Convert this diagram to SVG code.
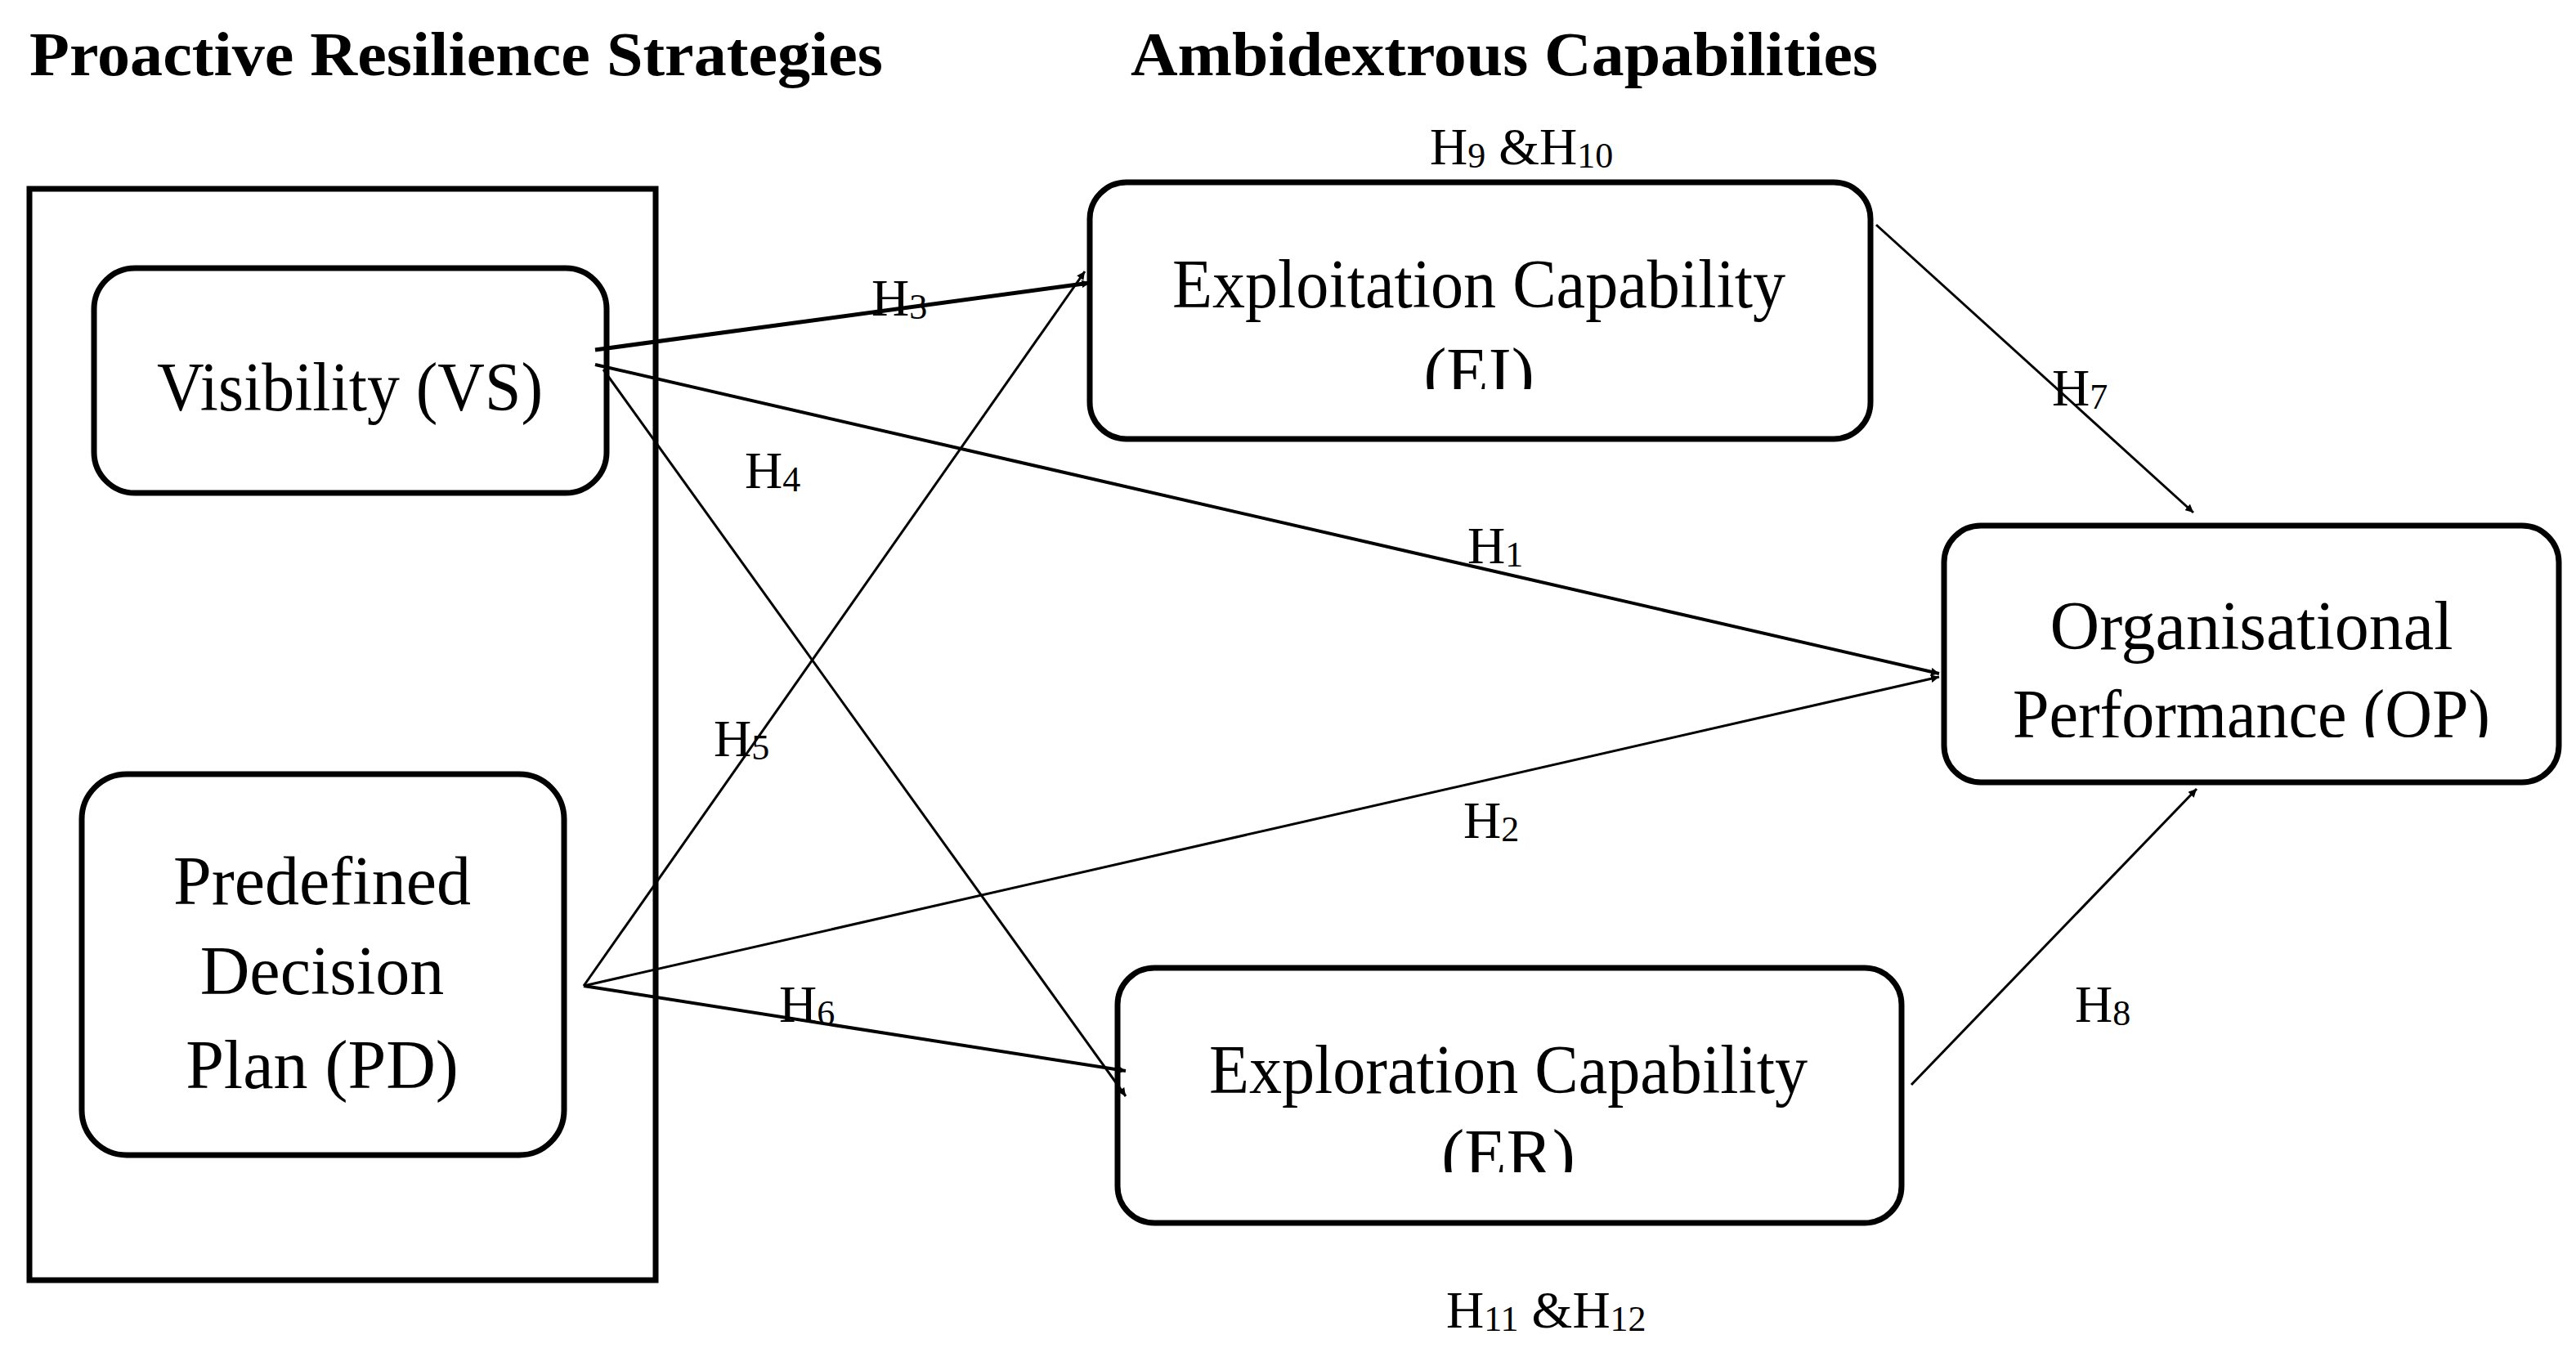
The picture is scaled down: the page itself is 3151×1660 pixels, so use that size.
<svg xmlns="http://www.w3.org/2000/svg" width="3151" height="1660" viewBox="0 0 3151 1660">
<style>
text{font-family:"Liberation Serif","Times New Roman",serif;fill:#000}
.t{font-weight:bold;font-size:76px}
.n{font-size:84px;text-anchor:middle}
.h{font-size:64px}
.s{font-size:44px}
.box{fill:#fff;stroke:#000;stroke-width:7}
.c{stroke:#000;fill:none}
</style>
<defs>
<marker id="a" viewBox="0 0 10 10" refX="10" refY="5" markerWidth="10" markerHeight="10" markerUnits="userSpaceOnUse" orient="auto">
<path d="M0,0 L10,5 L0,10 z" fill="#000"/>
</marker>
<clipPath id="cEI"><rect x="1333" y="223" width="955" height="253"/></clipPath>
<clipPath id="cOP"><rect x="2378" y="643" width="752" height="259"/></clipPath>
<clipPath id="cER"><rect x="1367" y="1184" width="959" height="250"/></clipPath>
</defs>
<rect width="3151" height="1660" fill="#fff"/>
<text class="t" x="36" y="92" textLength="1044" lengthAdjust="spacingAndGlyphs">Proactive Resilience Strategies</text>
<text class="t" x="1383" y="92" textLength="914" lengthAdjust="spacingAndGlyphs">Ambidextrous Capabilities</text>
<text class="h" x="1749" y="201">H<tspan class="s" dy="4">9</tspan><tspan dy="-4"> &amp;H</tspan><tspan class="s" dy="4">10</tspan></text>
<text class="h" x="1769" y="1624">H<tspan class="s" dy="4">11</tspan><tspan dy="-4"> &amp;H</tspan><tspan class="s" dy="4">12</tspan></text>
<g id="group">
<rect x="36" y="231" width="766" height="1335" fill="none" stroke="#000" stroke-width="7"/>
</g>
<g id="VS">
<rect class="box" x="115" y="328" width="627" height="275" rx="50"/>
<text class="n" x="428" y="502" textLength="472" lengthAdjust="spacingAndGlyphs">Visibility (VS)</text>
</g>
<g id="PD">
<rect class="box" x="100" y="947" width="590" height="466" rx="55"/>
<text class="n" x="394" y="1106">Predefined</text>
<text class="n" x="394" y="1216">Decision</text>
<text class="n" x="394" y="1331">Plan (PD)</text>
</g>
<g id="EI">
<rect class="box" x="1333" y="223" width="955" height="314" rx="45"/>
<text class="n" x="1809" y="376" textLength="750" lengthAdjust="spacingAndGlyphs">Exploitation Capability</text>
<text class="n" x="1809" y="484" clip-path="url(#cEI)">(EI)</text>
</g>
<g id="OP">
<rect class="box" x="2378" y="643" width="752" height="314" rx="45"/>
<text class="n" x="2754" y="794">Organisational</text>
<text class="n" x="2754" y="902" clip-path="url(#cOP)" textLength="584" lengthAdjust="spacingAndGlyphs">Performance (OP)</text>
</g>
<g id="ER">
<rect class="box" x="1367" y="1184" width="959" height="312" rx="45"/>
<text class="n" x="1845" y="1337" textLength="732" lengthAdjust="spacingAndGlyphs">Exploration Capability</text>
<text class="n" x="1845" y="1440" clip-path="url(#cER)">(ER)</text>
</g>
<g id="connectors">
<line class="c" stroke-width="5" x1="728" y1="428" x2="1333" y2="346" marker-end="url(#a)"/>
<line class="c" stroke-width="4" x1="728" y1="446" x2="2372" y2="824" marker-end="url(#a)"/>
<line class="c" stroke-width="3" x1="738" y1="452" x2="1377" y2="1341" marker-end="url(#a)"/>
<line class="c" stroke-width="3" x1="714" y1="1206" x2="1327" y2="332" marker-end="url(#a)"/>
<line class="c" stroke-width="3" x1="714" y1="1206" x2="2372" y2="828" marker-end="url(#a)"/>
<line class="c" stroke-width="4" x1="714" y1="1206" x2="1377" y2="1310" marker-end="url(#a)"/>
<line class="c" stroke-width="3" x1="2295" y1="275" x2="2683" y2="627" marker-end="url(#a)"/>
<line class="c" stroke-width="3" x1="2338" y1="1327" x2="2687" y2="965" marker-end="url(#a)"/>
<style>#connectors marker path{}</style>
</g>
<g id="labels">
<text class="h" x="1066" y="386">H<tspan class="s" dy="4">3</tspan></text>
<text class="h" x="911" y="597">H<tspan class="s" dy="4">4</tspan></text>
<text class="h" x="1795" y="689">H<tspan class="s" dy="4">1</tspan></text>
<text class="h" x="873" y="925">H<tspan class="s" dy="4">5</tspan></text>
<text class="h" x="1790" y="1025">H<tspan class="s" dy="4">2</tspan></text>
<text class="h" x="953" y="1250">H<tspan class="s" dy="4">6</tspan></text>
<text class="h" x="2510" y="496">H<tspan class="s" dy="4">7</tspan></text>
<text class="h" x="2538" y="1250">H<tspan class="s" dy="4">8</tspan></text>
</g>
</svg>
